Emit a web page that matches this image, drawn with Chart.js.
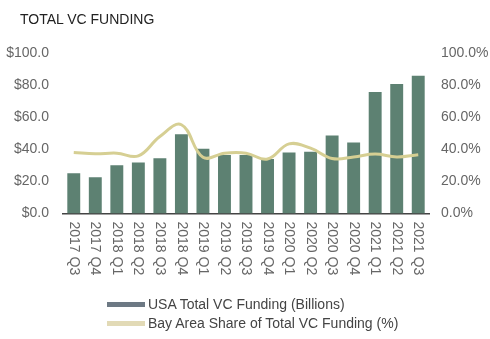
<!DOCTYPE html>
<html>
<head>
<meta charset="utf-8">
<script src="https://cdn.jsdelivr.net/npm/chart.js@4"></script>
<style>
  body { margin: 0; background: #fff; font-family: "Liberation Sans", Arial, sans-serif; }
  #wrap { position: relative; width: 490px; height: 339px; }
  #title { position: absolute; left: 20px; top: 11px; font-size: 14px; color: #222; }
  #legend { position: absolute; left: 107px; top: 295px; font-size: 14px; color: #444; }
  .item { height: 19px; line-height: 19px; white-space: nowrap; }
  .sw { display: inline-block; width: 38px; height: 5px; vertical-align: middle; margin-right: 3px; margin-top: -2px; }
</style>
</head>
<body>
<div id="wrap">
  <canvas id="chart" width="490" height="339"></canvas>
  <div id="title">TOTAL VC FUNDING</div>
  <div id="legend"></div>
</div>
<script>
// quarters on the x axis
const quarters = ['2017 Q3','2017 Q4','2018 Q1','2018 Q2','2018 Q3','2018 Q4','2019 Q1','2019 Q2','2019 Q3',
  '2019 Q4','2020 Q1','2020 Q2','2020 Q3','2020 Q4','2021 Q1','2021 Q2','2021 Q3'];
// USA total VC funding, billions
const usaFunding = [25.1, 22.6, 30.1, 31.8, 34.5, 49.3, 40.3, 36.5, 36.5, 33.9, 38.0, 38.4, 48.6, 44.3, 75.7, 80.7, 85.9];
// Bay Area share, percent
const bayShare = [38.0, 37.2, 37.6, 35.9, 48.0, 55.3, 35.0, 37.6, 37.6, 33.9, 43.4, 40.7, 34.3, 35.2, 37.0, 35.2, 36.6];

const barColor = '#5d8172';
const lineColor = '#d6cf93';

// x labels drawn by hand so they read top to bottom
const downLabels = {
  id: 'downLabels',
  afterDraw(chart) {
    const ctx = chart.ctx;
    const xs = chart.scales.x;
    ctx.save();
    ctx.font = '14px "Liberation Sans", Arial, sans-serif';
    ctx.fillStyle = '#666';
    ctx.textAlign = 'left';
    ctx.textBaseline = 'middle';
    quarters.forEach((q, i) => {
      ctx.save();
      ctx.translate(xs.getPixelForTick(i), xs.top + 8);
      ctx.rotate(Math.PI / 2);
      ctx.fillText(q, 0, 0);
      ctx.restore();
    });
    ctx.restore();
  }
};

new Chart(document.getElementById('chart'), {
  data: {
    labels: quarters,
    datasets: [
      { type: 'line', label: 'Bay Area Share of Total VC Funding (%)', data: bayShare, yAxisID: 'y1',
        borderColor: lineColor, borderWidth: 3, tension: 0.4, pointRadius: 0, order: 0 },
      { type: 'bar', label: 'USA Total VC Funding (Billions)', data: usaFunding, yAxisID: 'y',
        backgroundColor: barColor, barPercentage: 0.6, categoryPercentage: 1, order: 1 }
    ]
  },
  options: {
    responsive: false,
    animation: false,
    layout: { padding: { top: 53, left: 0, right: 0, bottom: 0 } },
    plugins: { legend: { display: false }, tooltip: { enabled: false } },
    scales: {
      x: {
        grid: { display: false, drawTicks: false },
        border: { display: true, color: '#444', width: 1.5 },
        ticks: { display: false },
        afterFit(s) { s.height = 125.5; }
      },
      y: {
        position: 'left', min: 0, max: 100,
        grid: { display: false, drawTicks: false },
        border: { display: false },
        ticks: { stepSize: 20, padding: 14, color: '#666', font: { family: '"Liberation Sans", Arial', size: 14 },
          callback: v => '$' + v.toFixed(1) },
        afterFit(s) { s.width = 63; }
      },
      y1: {
        position: 'right', min: 0, max: 100,
        grid: { display: false, drawTicks: false },
        border: { display: false },
        ticks: { stepSize: 20, padding: 12, color: '#666', font: { family: '"Liberation Sans", Arial', size: 14 },
          callback: v => v.toFixed(1) + '%' },
        afterFit(s) { s.width = 61; }
      }
    }
  },
  plugins: [downLabels]
});

// legend stacked, left aligned like the original
const legend = document.getElementById('legend');
[['#6d7984', 'USA Total VC Funding (Billions)'], ['#e2dab6', 'Bay Area Share of Total VC Funding (%)']].forEach(([c, t]) => {
  const d = document.createElement('div');
  d.className = 'item';
  d.innerHTML = '<span class="sw" style="background:' + c + '"></span>' + t;
  legend.appendChild(d);
});
</script>
</body>
</html>
